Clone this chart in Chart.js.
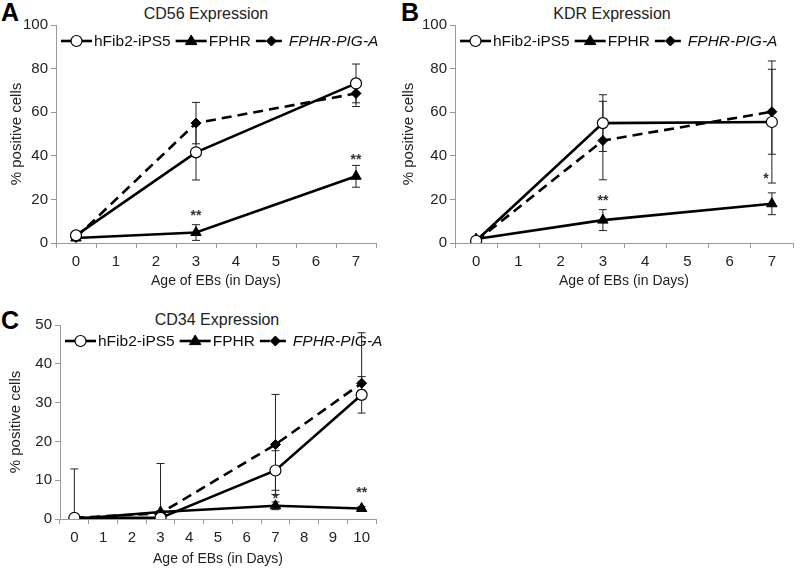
<!DOCTYPE html>
<html>
<head>
<meta charset="utf-8">
<script src="https://cdn.jsdelivr.net/npm/chart.js@4.4.1/dist/chart.umd.min.js"></script>
<style>
  body { margin: 0; background: #fff; width: 800px; height: 568px; position: relative; overflow: hidden;
         font-family: "Liberation Sans", Arial, sans-serif; }
  canvas { position: absolute; }
  .letter { position: absolute; font-weight: bold; font-size: 25px; line-height: 25px; color: #000; }
  .title { position: absolute; font-size: 16px; color: #222; transform: translate(-50%, -50%); white-space: nowrap; }
</style>
</head>
<body>
<div class="letter" style="left:1px;top:0px">A</div>
<div class="letter" style="left:401px;top:0px">B</div>
<div class="letter" style="left:1px;top:308px">C</div>
<div class="title" style="left:206px;top:14px">CD56 Expression</div>
<div class="title" style="left:612px;top:14px">KDR Expression</div>
<div class="title" style="left:217px;top:320px">CD34 Expression</div>

<canvas id="cd56" width="400" height="290" style="left:0;top:0"></canvas>
<canvas id="kdr" width="400" height="290" style="left:400px;top:0"></canvas>
<canvas id="cd34" width="400" height="278" style="left:0;top:290px"></canvas>

<script>
const FONT = "'Liberation Sans', Arial, sans-serif";

// x categories (days)
const ticksAB = ['0', '1', '2', '3', '4', '5', '6', '7'];
const ticksC = ['0', '1', '2', '3', '4', '5', '6', '7', '8', '9', '10'];
const daysAB = [0, 3, 7];
const daysC = [0, 3, 7, 10];

// A - CD56
const cd56Fib = [3.5, 41.6, 73.2];
const cd56FibErr = [1, 12.7, 8.9];
const cd56Fphr = [2.3, 4.8, 30.6];
const cd56FphrErr = [0.5, 3.6, 5];
const cd56Pig = [2.5, 55, 68.6];
const cd56PigErr = [0.5, 9.5, 6];
const cd56Stars = ['', '**', '**'];
const cd56StarLevel = [null, 13.8, 39.6];

// B - KDR
const kdrFib = [1, 55, 55.5];
const kdrFibErr = [0.5, 13, 28];
const kdrFphr = [1.8, 10.5, 18];
const kdrFphrErr = [0.5, 4.8, 5];
const kdrPig = [0.8, 47, 60.2];
const kdrPigErr = [0.5, 18, 19.5];
const kdrStars = ['', '**', '*'];
const kdrStarLevel = [null, 20.5, 30.5];

// C - CD34 (PIG-A day 10 bar is lopsided in the figure)
const cd34Fib = [0.3, 0.3, 12.5, 32];
const cd34FibErr = [12.6, 14, 5.1, 4.7];
const cd34Fphr = [0, 1.8, 3.4, 2.7];
const cd34FphrErr = [0.3, 0.4, 1, 0.5];
const cd34Pig = [0.3, 1.5, 19.2, 35];
const cd34PigErr = [0.3, 0.5, 12.9, 13];
const cd34PigErrLow = [0.3, 0.5, 12.9, 1.8];
const cd34Stars = ['', '', '*', '**'];
const cd34StarLevel = [null, null, 5.8, 7.4];


function drawMarker(ctx, style, r, x, y) {
	ctx.beginPath();
	if (style === 'circle') {
		ctx.arc(x, y, r, 0, Math.PI * 2);
	} else if (style === 'triangle') {
		ctx.moveTo(x, y - r);
		ctx.lineTo(x + r * 0.95, y + r * 0.6);
		ctx.lineTo(x - r * 0.95, y + r * 0.6);
		ctx.closePath();
	} else {
		ctx.moveTo(x, y - r);
		ctx.lineTo(x + r, y);
		ctx.lineTo(x, y + r);
		ctx.lineTo(x - r, y);
		ctx.closePath();
	}
	ctx.fill();
	ctx.stroke();
}

// legend drawn inside the plot area: line sample with marker, then text
const sampleLegend = {
	id: 'sampleLegend',
	beforeDatasetsDraw(chart) {
		const { ctx, chartArea } = chart;
		let x = chartArea.left + 5;
		const y = chartArea.top + 16;
		ctx.save();
		chart.data.datasets.forEach(ds => {
			ctx.strokeStyle = '#000';
			ctx.lineWidth = ds.borderWidth;
			ctx.setLineDash(ds.borderDash || []);
			ctx.beginPath();
			ctx.moveTo(x, y);
			ctx.lineTo(x + 31, y);
			ctx.stroke();
			ctx.setLineDash([]);
			ctx.fillStyle = ds.pointBackgroundColor;
			ctx.lineWidth = ds.pointBorderWidth;
			drawMarker(ctx, ds.pointStyle, ds.pointRadius, x + 15.5, y);

			ctx.font = (ds.italic ? 'italic ' : '') + '15.5px ' + FONT;
			ctx.fillStyle = '#111';
			ctx.textBaseline = 'middle';
			ctx.textAlign = 'left';
			ctx.fillText(ds.label, x + 33, y + 1);
			x += 33 + ctx.measureText(ds.label).width + 5;
		});
		ctx.restore();
	}
};

const errorBars = {
	id: 'errorBars',
	beforeDatasetsDraw(chart) {
		const { ctx, chartArea, scales } = chart;
		ctx.save();
		ctx.beginPath();
		ctx.rect(chartArea.left, 0, chartArea.width, chartArea.bottom);
		ctx.clip();
		ctx.strokeStyle = '#222';
		ctx.lineWidth = 1;
		chart.data.datasets.forEach((ds, i) => {
			const meta = chart.getDatasetMeta(i);
			const low = ds.errorsLow || ds.errors;
			meta.data.forEach((pt, j) => {
				const v = ds.data[j].y;
				const up = ds.errors[j], dn = low[j];
				if (!up && !dn) return;
				const yt = scales.y.getPixelForValue(v + up);
				const yb = scales.y.getPixelForValue(v - dn);
				ctx.beginPath();
				ctx.moveTo(pt.x, yt); ctx.lineTo(pt.x, yb);
				ctx.moveTo(pt.x - 4, yt); ctx.lineTo(pt.x + 4, yt);
				ctx.moveTo(pt.x - 4, yb); ctx.lineTo(pt.x + 4, yb);
				ctx.stroke();
			});
		});
		ctx.restore();
	}
};

const starMarks = {
	id: 'starMarks',
	afterDatasetsDraw(chart, args, opts) {
		const { ctx, scales } = chart;
		ctx.save();
		ctx.font = 'bold 14px ' + FONT;
		ctx.fillStyle = '#333';
		ctx.textAlign = 'center';
		ctx.textBaseline = 'middle';
		opts.labels.forEach((txt, i) => {
			if (!txt) return;
			const idx = chart.data.labels.indexOf(String(opts.days[i]));
			const x = scales.x.getPixelForValue(idx) + (opts.nudge ? opts.nudge[i] : 0);
			const y = scales.y.getPixelForValue(opts.levels[i]);
			ctx.fillText(txt, x, y + 3);
		});
		ctx.restore();
	}
};

function makePanel(id, p) {
	const toPts = vals => vals.map((v, i) => ({ x: String(p.days[i]), y: v }));
	const axisGrey = '#9a9a9a';

	new Chart(document.getElementById(id), {
		type: 'line',
		data: {
			labels: p.ticks,
			datasets: [
				{
					label: 'hFib2-iPS5', data: toPts(p.fib), errors: p.fibErr,
					borderColor: '#000', borderWidth: 2.6,
					pointStyle: 'circle', pointRadius: 5.5, pointBackgroundColor: '#fff',
					pointBorderColor: '#000', pointBorderWidth: 1.2
				},
				{
					label: 'FPHR', data: toPts(p.fphr), errors: p.fphrErr,
					borderColor: '#000', borderWidth: 2.6,
					pointStyle: 'triangle', pointRadius: 6, pointBackgroundColor: '#000',
					pointBorderColor: '#000', pointBorderWidth: 1
				},
				{
					label: 'FPHR-PIG-A', italic: true, data: toPts(p.pig), errors: p.pigErr, errorsLow: p.pigErrLow,
					borderColor: '#000', borderWidth: 2.6, borderDash: [10, 6],
					pointStyle: 'rectRot', pointRadius: 5, pointBackgroundColor: '#000',
					pointBorderColor: '#000', pointBorderWidth: 1
				}
			]
		},
		options: {
			responsive: false,
			animation: false,
			layout: { padding: p.pad },
			scales: {
				x: {
					type: 'category',
					offset: true,
					grid: { offset: true, drawOnChartArea: false, tickLength: 5, color: axisGrey },
					border: { color: axisGrey },
					ticks: { color: '#222', font: { family: FONT, size: 15 }, padding: 5, maxRotation: 0, autoSkip: false },
					title: { display: true, text: 'Age of EBs (in Days)', color: '#222',
						font: { family: FONT, size: 14 }, padding: { top: 0, bottom: 0 } },
					afterFit: s => { s.height = p.xh; }
				},
				y: {
					min: 0, max: p.ymax,
					grid: { drawOnChartArea: false, tickLength: 5, color: axisGrey },
					border: { color: axisGrey },
					ticks: { stepSize: p.step, color: '#222', font: { family: FONT, size: 15 }, padding: 3 },
					title: { display: true, text: '% positive cells', color: '#222',
						font: { family: FONT, size: 15 }, padding: { top: p.ytp, bottom: 0 } },
					afterFit: s => { s.width = p.yw; }
				}
			},
			plugins: {
				legend: { display: false },
				tooltip: { enabled: false },
				starMarks: { labels: p.stars, levels: p.starLevel, days: p.days, nudge: p.nudge }
			}
		},
		plugins: [sampleLegend, errorBars, starMarks]
	});
}

makePanel('cd56', {
	ticks: ticksAB, days: daysAB, ymax: 100, step: 20,
	fib: cd56Fib, fibErr: cd56FibErr, fphr: cd56Fphr, fphrErr: cd56FphrErr, pig: cd56Pig, pigErr: cd56PigErr,
	stars: cd56Stars, starLevel: cd56StarLevel,
	pad: { top: 25, right: 24, left: 0, bottom: 0 }, yw: 56, xh: 47, ytp: 8
});

makePanel('kdr', {
	ticks: ticksAB, days: daysAB, ymax: 100, step: 20,
	fib: kdrFib, fibErr: kdrFibErr, fphr: kdrFphr, fphrErr: kdrFphrErr, pig: kdrPig, pigErr: kdrPigErr,
	stars: kdrStars, starLevel: kdrStarLevel, nudge: [0, 0, -6],
	pad: { top: 25, right: 2, left: 0, bottom: 0 }, yw: 55, xh: 47, ytp: 0
});

makePanel('cd34', {
	ticks: ticksC, days: daysC, ymax: 50, step: 10,
	fib: cd34Fib, fibErr: cd34FibErr, fphr: cd34Fphr, fphrErr: cd34FphrErr,
	pig: cd34Pig, pigErr: cd34PigErr, pigErrLow: cd34PigErrLow,
	stars: cd34Stars, starLevel: cd34StarLevel,
	pad: { top: 35, right: 24, left: 0, bottom: 0 }, yw: 60, xh: 49, ytp: 7
});
</script>
</body>
</html>
